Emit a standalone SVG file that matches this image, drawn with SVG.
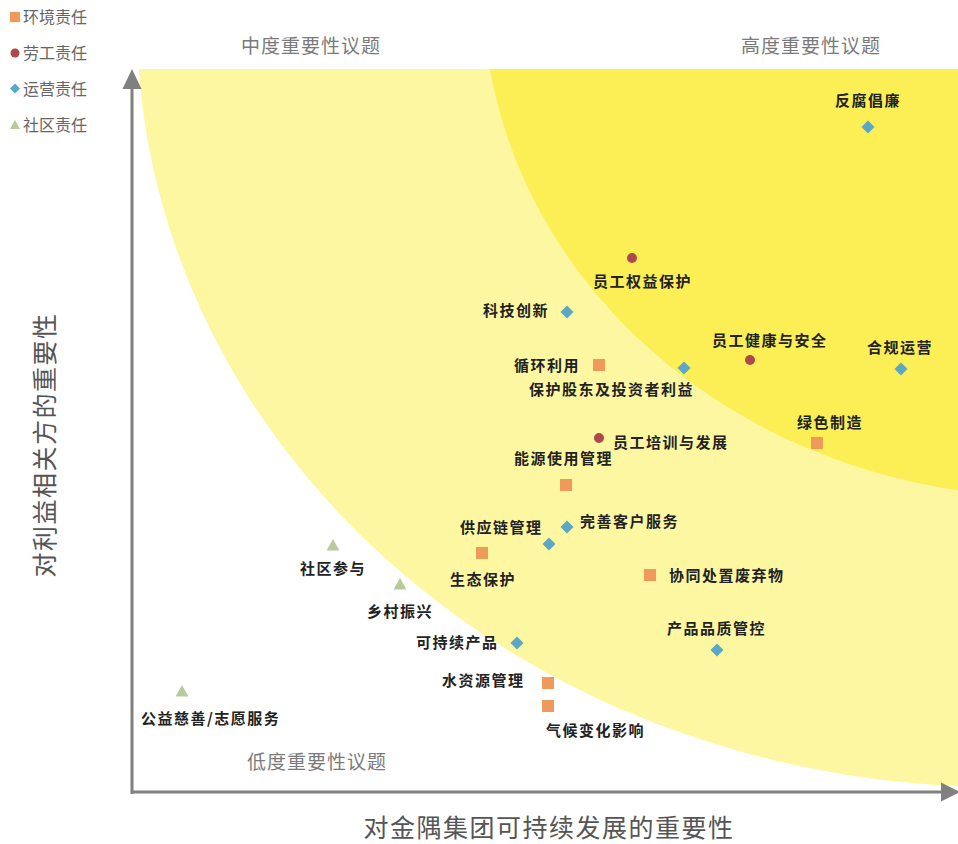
<svg xmlns="http://www.w3.org/2000/svg" width="958" height="844" viewBox="0 0 958 844">
<defs>
<style>
.lbl{font-family:"Noto Sans CJK SC","Noto Sans",sans-serif;font-size:15px;font-weight:bold;fill:#222;letter-spacing:1.5px}
.leg{font-family:"Noto Sans CJK SC","Noto Sans",sans-serif;font-size:16px;fill:#666}
.zone{font-family:"Noto Sans CJK SC","Noto Sans",sans-serif;font-size:19px;fill:#7a7a7a;letter-spacing:1px}
.axt{font-family:"Noto Sans CJK SC","Noto Sans",sans-serif;font-size:25px;fill:#555;letter-spacing:1.5px}
.env{fill:#EF995B}
.lab{fill:#B0474B}
.ops{fill:#5BA7C6}
.com{fill:#B9CA9C}
.axis{stroke:#808080;stroke-width:3;fill:none}
</style>
<clipPath id="plot"><rect x="134" y="69" width="824" height="721"/></clipPath>
<g id="sq"><rect x="-6" y="-6" width="12" height="12"/></g>
<g id="ci"><circle r="5"/></g>
<g id="di"><polygon points="0,-6.5 6.5,0 0,6.5 -6.5,0"/></g>
<g id="tr"><polygon points="0,-6 6.5,5.5 -6.5,5.5"/></g>
</defs>
<rect width="958" height="844" fill="#fff"/>
<g id="bands" clip-path="url(#plot)">
<ellipse cx="1000" cy="20" rx="863" ry="767" fill="#FDF7A2"/>
<ellipse cx="1050" cy="-10" rx="567" ry="507" fill="#FCEE55"/>
</g>
<g id="legend">
<use href="#sq" x="15" y="17" class="env" transform="translate(15 17) scale(0.85) translate(-15 -17)"/>
<text class="leg" x="23" y="23">环境责任</text>
<circle cx="15" cy="53" r="4.5" class="lab"/>
<text class="leg" x="23" y="59">劳工责任</text>
<polygon points="15,83.5 20,88.5 15,93.5 10,88.5" class="ops"/>
<text class="leg" x="23" y="95">运营责任</text>
<polygon points="15,120 20,129 10,129" class="com"/>
<text class="leg" x="23" y="131">社区责任</text>
</g>
<g id="zones">
<text class="zone" x="311" y="53" text-anchor="middle">中度重要性议题</text>
<text class="zone" x="811" y="53" text-anchor="middle">高度重要性议题</text>
<text class="zone" x="317" y="769" text-anchor="middle">低度重要性议题</text>
</g>
<g id="connectors">
<line class="axis" x1="132" y1="794" x2="132" y2="86"/>
<polygon points="132,69 122.5,89 141.5,89" fill="#808080"/>
<line class="axis" x1="132" y1="792" x2="942" y2="792"/>
<polygon points="960,792 941,782.5 941,801.5" fill="#808080"/>
</g>
<g id="axis-labels">
<text class="axt" x="549" y="837" text-anchor="middle">对金隅集团可持续发展的重要性</text>
<text class="axt" transform="translate(54 445) rotate(-90)" text-anchor="middle">对利益相关方的重要性</text>
</g>
<g id="n-fanfu"><use href="#di" x="868" y="127" class="ops"/><text class="lbl" x="868" y="106" text-anchor="middle">反腐倡廉</text></g>
<g id="n-quanyi"><use href="#ci" x="632" y="258" class="lab"/><text class="lbl" x="593" y="287">员工权益保护</text></g>
<g id="n-keji"><use href="#di" x="567" y="312" class="ops"/><text class="lbl" x="483" y="316">科技创新</text></g>
<g id="n-jiankang"><use href="#ci" x="750" y="360" class="lab"/><text class="lbl" x="712" y="346">员工健康与安全</text></g>
<g id="n-hegui"><use href="#di" x="901" y="369" class="ops"/><text class="lbl" x="867" y="353">合规运营</text></g>
<g id="n-xunhuan"><use href="#sq" x="599" y="365" class="env"/><text class="lbl" x="514" y="371">循环利用</text></g>
<g id="n-gudong"><use href="#di" x="684" y="368" class="ops"/><text class="lbl" x="529" y="395">保护股东及投资者利益</text></g>
<g id="n-lvse"><use href="#sq" x="817" y="443" class="env"/><text class="lbl" x="797" y="428">绿色制造</text></g>
<g id="n-peixun"><use href="#ci" x="599" y="438" class="lab"/><text class="lbl" x="613" y="448">员工培训与发展</text></g>
<g id="n-nengyuan"><use href="#sq" x="566" y="485" class="env"/><text class="lbl" x="514" y="464">能源使用管理</text></g>
<g id="n-kehu"><use href="#di" x="567" y="527" class="ops"/><text class="lbl" x="580" y="527">完善客户服务</text></g>
<g id="n-gongying"><use href="#di" x="549" y="544" class="ops"/><text class="lbl" x="460" y="533">供应链管理</text></g>
<g id="n-shengtai"><use href="#sq" x="482" y="553" class="env"/><text class="lbl" x="450" y="585">生态保护</text></g>
<g id="n-xietong"><use href="#sq" x="650" y="575" class="env"/><text class="lbl" x="669" y="581">协同处置废弃物</text></g>
<g id="n-shequ"><use href="#tr" x="333" y="545" class="com"/><text class="lbl" x="300" y="574">社区参与</text></g>
<g id="n-xiangcun"><use href="#tr" x="400" y="584" class="com"/><text class="lbl" x="367" y="617">乡村振兴</text></g>
<g id="n-kechixu"><use href="#di" x="517" y="643" class="ops"/><text class="lbl" x="416" y="648">可持续产品</text></g>
<g id="n-pinzhi"><use href="#di" x="717" y="650" class="ops"/><text class="lbl" x="667" y="634">产品品质管控</text></g>
<g id="n-shuiziyuan"><use href="#sq" x="548" y="683" class="env"/><text class="lbl" x="442" y="686">水资源管理</text></g>
<g id="n-qihou"><use href="#sq" x="548" y="706" class="env"/><text class="lbl" x="546" y="736">气候变化影响</text></g>
<g id="n-gongyi"><use href="#tr" x="182" y="691" class="com"/><text class="lbl" x="141" y="724">公益慈善/志愿服务</text></g>
</svg>
